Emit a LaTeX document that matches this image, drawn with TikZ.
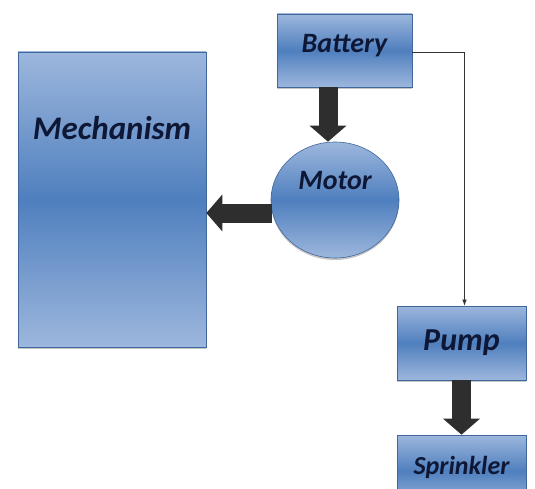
\documentclass[tikz,border=0pt]{standalone}
\usepackage{fontspec}
\setmainfont{Carlito}
\usepackage{xcolor}
\usetikzlibrary{arrows.meta,calc,positioning,shapes.geometric,shadows}
\definecolor{boxlight}{HTML}{9DB7DD}
\definecolor{boxmid}{HTML}{4F7FBE}
\definecolor{boxedge}{HTML}{3F679C}
\definecolor{boxtext}{HTML}{0E1836}
\definecolor{fatgray}{HTML}{2E2E2E}

\begin{document}
\begin{tikzpicture}[x=1pt,y=-1pt,>=Latex]
      \tikzstyle{bluebox}=[draw=boxedge,line width=0.6pt,top color=boxlight,bottom color=boxlight,middle color=boxmid,
        drop shadow={opacity=0.45,shadow xshift=0pt,shadow yshift=-2pt},text=boxtext,font=\bfseries\itshape]
      \tikzstyle{fatarrow}=[line width=19pt,draw=fatgray,-{Triangle[width=36pt,length=16pt]}]
      \useasboundingbox (0,0) rectangle (535,489);
      \node[bluebox,minimum width=188pt,minimum height=295pt] (mech) at (112,199.5) {};
      \node[font=\fontsize{33}{36}\selectfont\bfseries\itshape,text=boxtext] (mechtext) at ([yshift=-76pt]mech.north) {Mechanism};
      \node[bluebox,minimum width=135pt,minimum height=73pt,font=\fontsize{28}{30}\selectfont\bfseries\itshape] (battery) at (344.5,50.5) {\raisebox{14pt}{Battery}};
      \node[bluebox,ellipse,minimum width=128pt,minimum height=116pt] (motor) at (335,200) {};
      \node[font=\fontsize{28}{30}\selectfont\bfseries\itshape,text=boxtext] (motortext) at ([yshift=19pt]motor.center) {Motor};
      \node[bluebox,minimum width=129pt,minimum height=74pt,font=\fontsize{32}{34}\selectfont\bfseries\itshape] (pump) at (461.5,343) {\raisebox{5pt}{Pump}};
      \node[bluebox,minimum width=129pt,minimum height=72pt,font=\fontsize{26}{28}\selectfont\bfseries\itshape] (sprinkler) at (461.5,471) {\raisebox{12pt}{Sprinkler}};
      \draw[fatarrow] ([xshift=-7pt]motor.north |- battery.south) -- ([xshift=-7pt]motor.north);
      \draw[fatarrow] ($(motor.west)+(1,13)$) -- ($(mech.east)+(0,13.5)$);
      \draw[fatarrow] (pump.south) -- (sprinkler.north);
      \draw[->,line width=0.7pt,black!80] ([yshift=-2pt]battery.east) -| ([xshift=3pt]pump.north);
    \end{tikzpicture}
\end{document}
